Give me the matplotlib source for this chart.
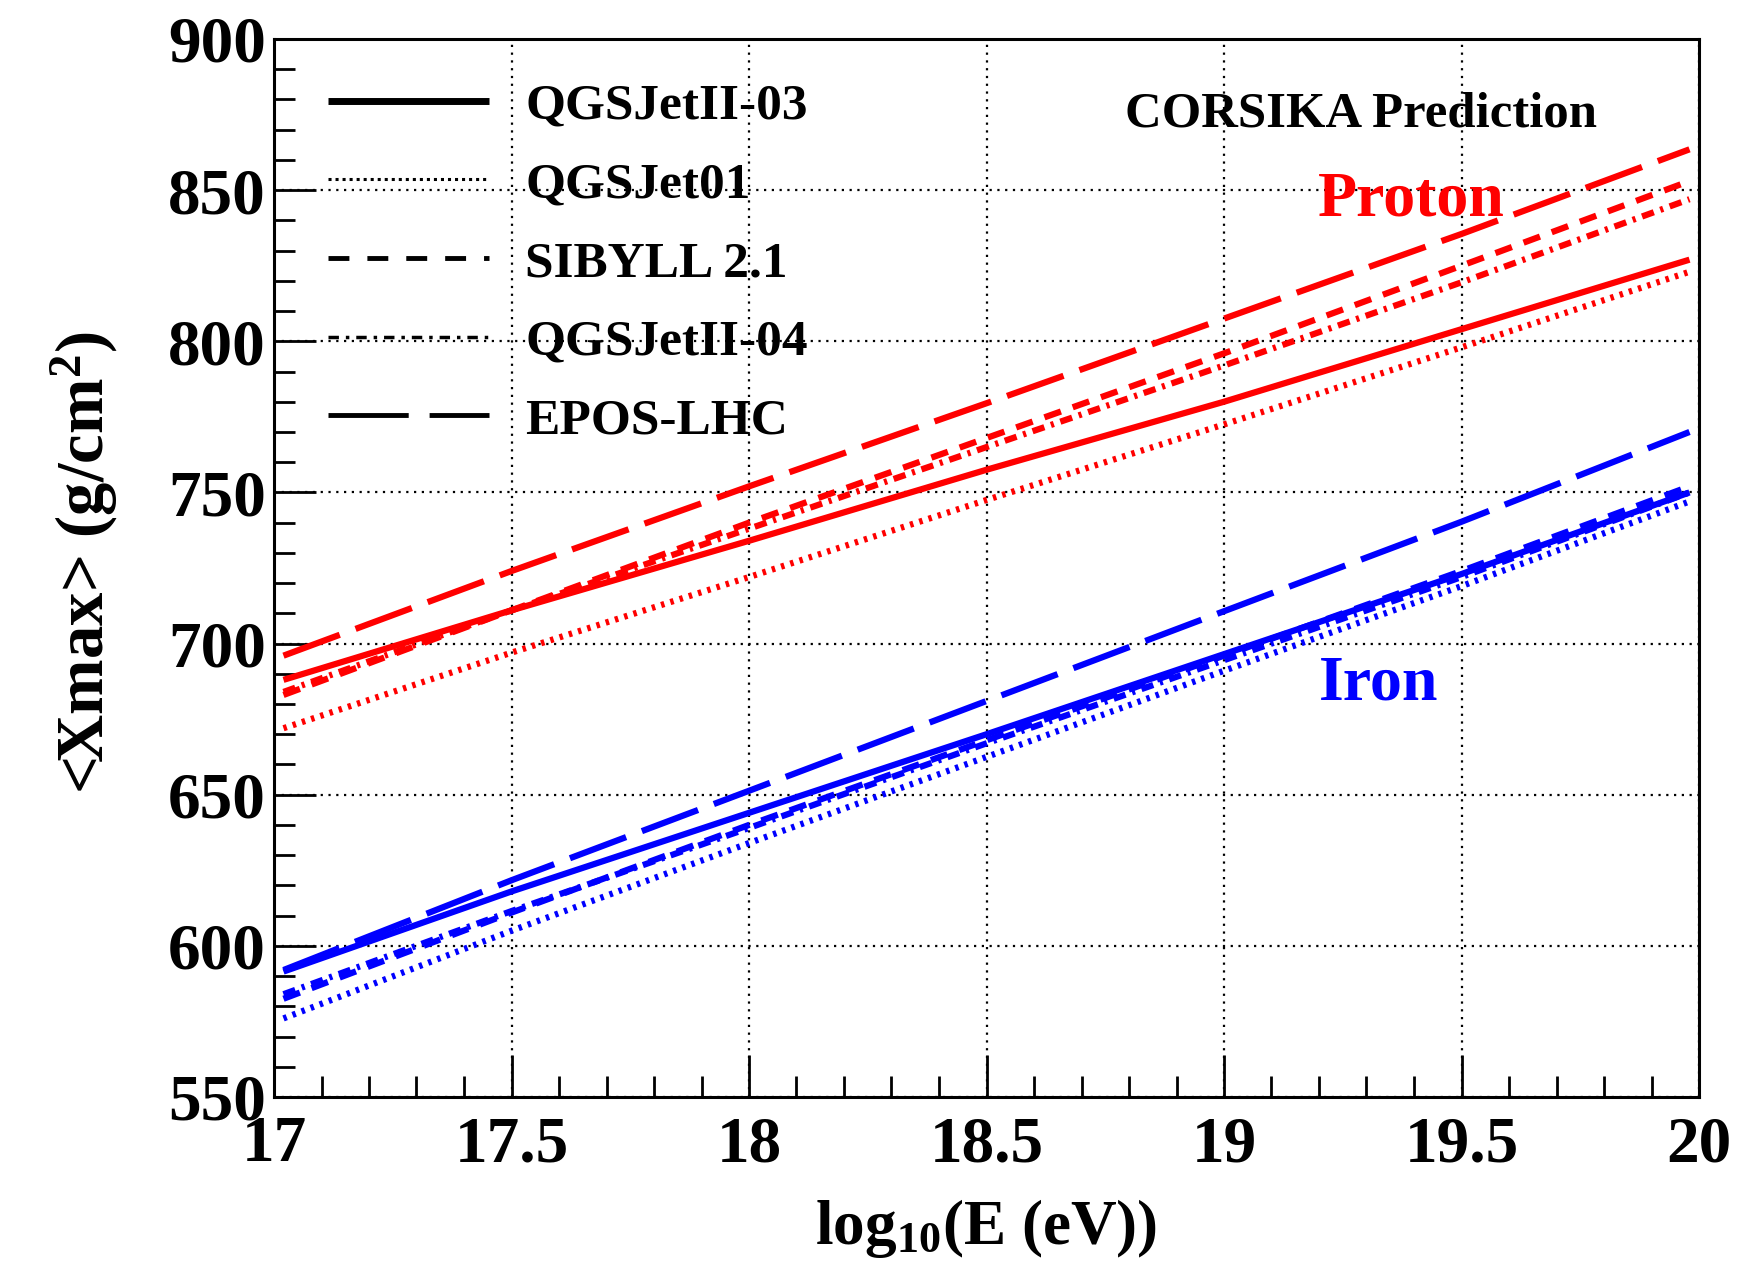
import matplotlib
matplotlib.use("Agg")
import matplotlib.pyplot as plt
from matplotlib.ticker import MultipleLocator, FixedLocator
from matplotlib.lines import Line2D

plt.rcParams['font.family'] = ['Liberation Serif', 'DejaVu Serif']
plt.rcParams['font.weight'] = 'bold'
plt.rcParams['mathtext.fontset'] = 'custom'
plt.rcParams['mathtext.rm'] = 'Liberation Serif:bold'
plt.rcParams['mathtext.bf'] = 'Liberation Serif:bold'
plt.rcParams['mathtext.it'] = 'Liberation Serif:bold'
plt.rcParams['mathtext.default'] = 'rm'

# ---------------- data ----------------
log_energy = [17.02, 17.5, 18.0, 18.5, 19.0, 19.5, 19.98]
models = ["QGSJetII-03", "QGSJet01", "SIBYLL 2.1", "QGSJetII-04", "EPOS-LHC"]

proton_qgsjetII03 = [688, 711, 734, 757.5, 780, 804, 827]
proton_qgsjet01   = [672, 697, 722, 747.5, 772.5, 798, 823]
proton_sibyll21   = [683, 711, 740, 768, 796, 825, 853]
proton_qgsjetII04 = [684, 711, 738, 765, 792, 819.5, 847]
proton_eposlhc    = [696, 724, 752, 779.5, 807.5, 835.5, 863.5]

iron_qgsjetII03 = [591.5, 618, 644, 670, 696.5, 723, 750]
iron_qgsjet01   = [576, 605, 634, 662.5, 691, 719, 747]
iron_sibyll21   = [582.5, 611, 640, 668, 696, 724, 752]
iron_qgsjetII04 = [584, 611.5, 639, 667, 694.5, 722, 750]
iron_eposlhc    = [592, 621.7, 651.3, 681, 710.7, 740.3, 770]

x_ticks = [17, 17.5, 18, 18.5, 19, 19.5, 20]
x_tick_labels = ["17", "17.5", "18", "18.5", "19", "19.5", "20"]
y_ticks = [550, 600, 650, 700, 750, 800, 850, 900]
y_tick_labels = ["550", "600", "650", "700", "750", "800", "850", "900"]

proton_series = [proton_qgsjetII03, proton_qgsjet01, proton_sibyll21,
                 proton_qgsjetII04, proton_eposlhc]
iron_series = [iron_qgsjetII03, iron_qgsjet01, iron_sibyll21,
               iron_qgsjetII04, iron_eposlhc]

# ---------------- styles ----------------
LW = 4.5
styles = ['-', (0, (0.55, 1.0)), (0, (2.8, 2.0)), (0, (2.0, 1.1, 0.5, 1.1)),
          (0, (9.6, 2.7))]
leg_lw = [5.0, 2.2, 3.5, 2.5, 3.5]
leg_styles = ['-', (0, (1.0, 1.3)), (0, (4.3, 3.7)), (0, (3.0, 2.0, 1.0, 2.0)),
              (0, (16.5, 4.3))]

fig = plt.figure(figsize=(17.47, 12.65), dpi=100)
ax = fig.add_axes([274/1747, 1 - 1097/1265, (1699 - 274)/1747, (1097 - 39)/1265])

for vals, ls in zip(proton_series, styles):
    ax.plot(log_energy, vals, color='#ff0000', lw=LW, linestyle=ls,
            dash_capstyle='butt', solid_capstyle='butt')
for vals, ls in zip(iron_series, styles):
    ax.plot(log_energy, vals, color='#0000ff', lw=LW, linestyle=ls,
            dash_capstyle='butt', solid_capstyle='butt')

ax.set_xlim(17, 20)
ax.set_ylim(550, 900)
ax.xaxis.set_major_locator(FixedLocator(x_ticks))
ax.yaxis.set_major_locator(FixedLocator(y_ticks))
ax.set_xticklabels(x_tick_labels)
ax.set_yticklabels(y_tick_labels)
ax.xaxis.set_minor_locator(MultipleLocator(0.1))
ax.yaxis.set_minor_locator(MultipleLocator(10))

ax.tick_params(axis='both', which='major', direction='in', length=30, width=2,
               labelsize=47, top=False, right=False)
ax.tick_params(axis='both', which='minor', direction='in', length=15, width=2,
               top=False, right=False)
ax.tick_params(axis='x', which='major', pad=13)
ax.tick_params(axis='y', which='major', pad=6)
for lab in ax.get_xticklabels() + ax.get_yticklabels():
    lab.set_fontweight('bold')

for sp in ax.spines.values():
    sp.set_linewidth(2.2)

ax.grid(True, which='major', color='black', linestyle=(0, (1, 2.5)), lw=1.6)

# legend
handles = [Line2D([0], [0], color='black', lw=lw, linestyle=ls,
                  dash_capstyle='butt', solid_capstyle='butt')
           for lw, ls in zip(leg_lw, leg_styles)]
leg = ax.legend(handles, models, loc='upper left', bbox_to_anchor=(0.013, 0.9925),
                frameon=False, handlelength=3.13, handletextpad=0.7,
                labelspacing=0.615, borderpad=0.2,
                prop={'weight': 'bold', 'size': 37})

ax.text(0.763, 0.929, "CORSIKA Prediction", transform=ax.transAxes, ha='center',
        va='center', fontsize=36.5, fontweight='bold', color='black')
ax.text(0.798, 0.847, "Proton", transform=ax.transAxes, ha='center', va='center',
        fontsize=46, fontweight='bold', color='#ff0000')
ax.text(0.775, 0.390, "Iron", transform=ax.transAxes, ha='center', va='center',
        fontsize=46, fontweight='bold', color='#0000ff')

fig.text(986/1747, 1 - 1229/1265, r"log$_{10}$(E (eV))", ha='center', va='center',
         fontsize=45.5, fontweight='bold')
fig.text(84/1747, 1 - 563/1265, r"<Xmax> (g/cm$^{2}$)", ha='center', va='center',
         rotation=90, fontsize=48, fontweight='bold')

fig.savefig("out.png", dpi=100)
